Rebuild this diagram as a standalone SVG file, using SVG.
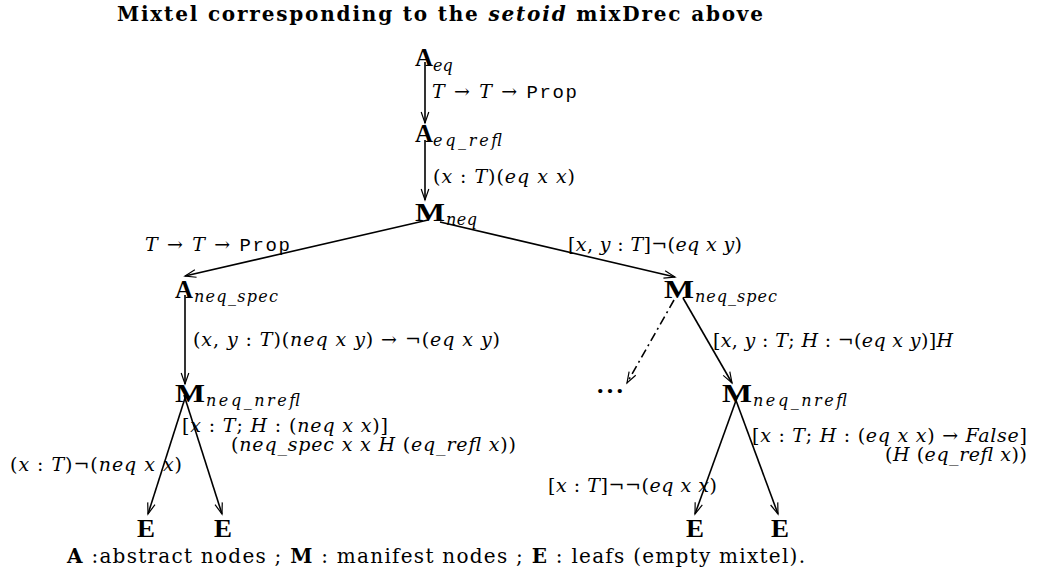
<svg xmlns="http://www.w3.org/2000/svg" width="1042" height="577" viewBox="0 0 1042 577">
<style>
text{font-family:"DejaVu Serif","Liberation Serif",serif;fill:#000}
.t{font-size:20px;font-weight:bold}
.n{font-family:"Liberation Serif","DejaVu Serif",serif;font-size:26px;font-weight:bold}
.s{font-size:16px;font-style:italic}
.l{font-size:19px}
.i{font-style:italic}
.m{font-family:"Liberation Mono","DejaVu Sans Mono",monospace;font-size:19px}
.f{font-size:20px}
.b{font-weight:bold}
.e{stroke:#000;stroke-width:1.6;fill:none;marker-end:url(#ah)}
.dd{stroke-dasharray:9 4 2 4}
</style>
<defs>
<marker id="ah" markerUnits="userSpaceOnUse" markerWidth="14" markerHeight="12" refX="0" refY="0" viewBox="-12 -6 14 12" orient="auto">
<path d="M-11,-3.8 L0,0 L-11,3.8" fill="none" stroke="#000" stroke-width="1.2"/>
</marker>
</defs>
<rect width="1042" height="577" fill="#fff"/>
<text class="t" x="117" y="21" textLength="646" lengthAdjust="spacing">Mixtel corresponding to the <tspan class="i">setoid</tspan> mixDrec above</text>

<g id="connectors">
<line class="e" x1="425" y1="62" x2="425" y2="123"/>
<line class="e" x1="425" y1="140" x2="425" y2="200"/>
<line class="e" x1="428" y1="220" x2="185" y2="276"/>
<line class="e" x1="440" y1="222" x2="675" y2="277"/>
<line class="e" x1="185" y1="295" x2="185" y2="384"/>
<line class="e dd" x1="674" y1="300" x2="627" y2="383"/>
<line class="e" x1="683" y1="298" x2="732" y2="383"/>
<line class="e" x1="186" y1="395" x2="148" y2="514"/>
<line class="e" x1="184" y1="395" x2="222" y2="514"/>
<line class="e" x1="738" y1="395" x2="695" y2="514"/>
<line class="e" x1="734" y1="395" x2="778" y2="514"/>
</g>

<g id="edge-labels">
<text class="l" x="432" y="98" textLength="145" lengthAdjust="spacing"><tspan class="i">T</tspan> → <tspan class="i">T</tspan> → <tspan class="m">Prop</tspan></text>
<text class="l" x="433" y="183" textLength="142" lengthAdjust="spacing">(<tspan class="i">x</tspan> : <tspan class="i">T</tspan>)(<tspan class="i">eq x x</tspan>)</text>
<text class="l" x="145" y="251" textLength="145" lengthAdjust="spacing"><tspan class="i">T</tspan> → <tspan class="i">T</tspan> → <tspan class="m">Prop</tspan></text>
<text class="l" x="568" y="251" textLength="174" lengthAdjust="spacing">[<tspan class="i">x</tspan>, <tspan class="i">y</tspan> : <tspan class="i">T</tspan>]¬(<tspan class="i">eq x y</tspan>)</text>
<text class="l" x="193" y="346" textLength="307" lengthAdjust="spacing">(<tspan class="i">x</tspan>, <tspan class="i">y</tspan> : <tspan class="i">T</tspan>)(<tspan class="i">neq x y</tspan>) → ¬(<tspan class="i">eq x y</tspan>)</text>
<text class="l" x="713" y="347" textLength="240" lengthAdjust="spacing">[<tspan class="i">x</tspan>, <tspan class="i">y</tspan> : <tspan class="i">T</tspan>; <tspan class="i">H</tspan> : ¬(<tspan class="i">eq x y</tspan>)]<tspan class="i">H</tspan></text>
<text class="l" x="182" y="432" textLength="206" lengthAdjust="spacing">[<tspan class="i">x</tspan> : <tspan class="i">T</tspan>; <tspan class="i">H</tspan> : (<tspan class="i">neq x x</tspan>)]</text>
<text class="l" x="231" y="451" textLength="285" lengthAdjust="spacing">(<tspan class="i">neq_spec x x H</tspan> (<tspan class="i">eq_refl x</tspan>))</text>
<text class="l" x="10" y="471" textLength="172" lengthAdjust="spacing">(<tspan class="i">x</tspan> : <tspan class="i">T</tspan>)¬(<tspan class="i">neq x x</tspan>)</text>
<text class="l" x="752" y="442" textLength="275" lengthAdjust="spacing">[<tspan class="i">x</tspan> : <tspan class="i">T</tspan>; <tspan class="i">H</tspan> : (<tspan class="i">eq x x</tspan>) → <tspan class="i">False</tspan>]</text>
<text class="l" x="885" y="461" textLength="142" lengthAdjust="spacing">(<tspan class="i">H</tspan> (<tspan class="i">eq_refl x</tspan>))</text>
<text class="l" x="548" y="492" textLength="169" lengthAdjust="spacing">[<tspan class="i">x</tspan> : <tspan class="i">T</tspan>]¬¬(<tspan class="i">eq x x</tspan>)</text>
</g>

<g id="A_eq"><text class="n" x="415" y="66" textLength="18" lengthAdjust="spacingAndGlyphs">A</text><text class="s" x="433" y="71">eq</text></g>
<g id="A_eq_refl"><text class="n" x="415" y="142" textLength="18" lengthAdjust="spacingAndGlyphs">A</text><text class="s" x="433" y="146" textLength="69" lengthAdjust="spacing">eq_refl</text></g>
<g id="M_neq"><text class="n" x="415" y="221" textLength="30" lengthAdjust="spacingAndGlyphs">M</text><text class="s" x="446" y="225" textLength="31" lengthAdjust="spacing">neq</text></g>
<g id="A_neq_spec"><text class="n" x="175" y="298" textLength="18" lengthAdjust="spacingAndGlyphs">A</text><text class="s" x="194" y="302" textLength="84" lengthAdjust="spacing">neq_spec</text></g>
<g id="M_neq_spec"><text class="n" x="664" y="298" textLength="30" lengthAdjust="spacingAndGlyphs">M</text><text class="s" x="695" y="302" textLength="82" lengthAdjust="spacing">neq_spec</text></g>
<g id="M_neq_nrefl_1"><text class="n" x="175" y="402" textLength="30" lengthAdjust="spacingAndGlyphs">M</text><text class="s" x="206" y="406" textLength="94" lengthAdjust="spacing">neq_nrefl</text></g>
<g id="M_neq_nrefl_2"><text class="n" x="722" y="402" textLength="30" lengthAdjust="spacingAndGlyphs">M</text><text class="s" x="753" y="406" textLength="94" lengthAdjust="spacing">neq_nrefl</text></g>
<g id="dots"><text class="n" x="597" y="393" textLength="26" lengthAdjust="spacing">...</text></g>
<g id="E_1"><text class="n" x="137" y="537" textLength="18" lengthAdjust="spacingAndGlyphs">E</text></g>
<g id="E_2"><text class="n" x="214" y="537" textLength="18" lengthAdjust="spacingAndGlyphs">E</text></g>
<g id="E_3"><text class="n" x="686" y="537" textLength="18" lengthAdjust="spacingAndGlyphs">E</text></g>
<g id="E_4"><text class="n" x="771" y="537" textLength="18" lengthAdjust="spacingAndGlyphs">E</text></g>

<text class="f" x="67" y="563" textLength="738" lengthAdjust="spacing"><tspan class="b">A</tspan> :abstract nodes ; <tspan class="b">M</tspan> : manifest nodes ; <tspan class="b">E</tspan> : leafs (empty mixtel).</text>
</svg>
